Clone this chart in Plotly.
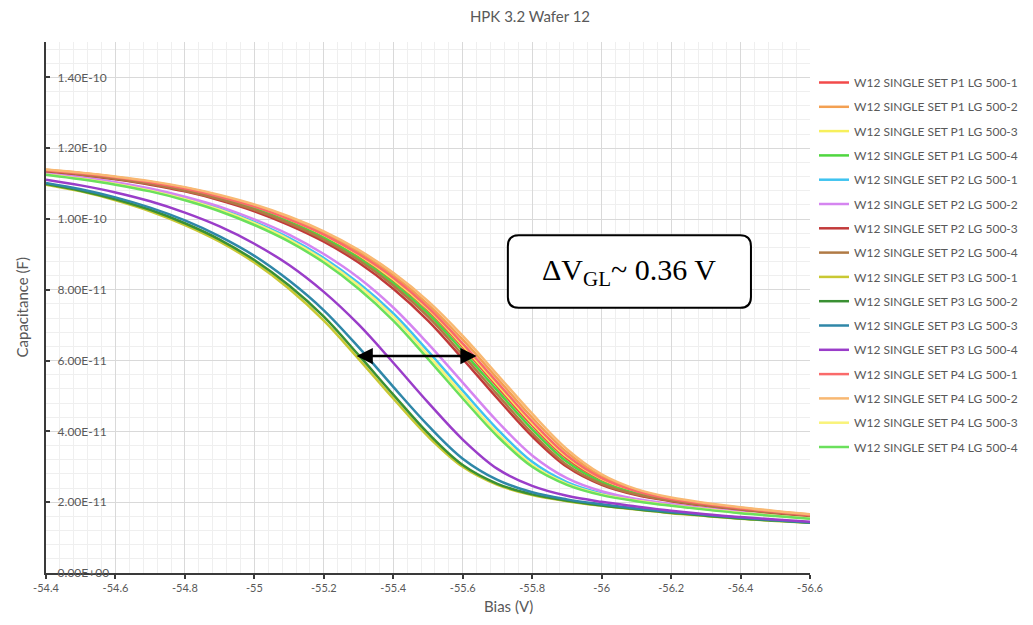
import plotly.graph_objects as go

# ---------------- data ----------------
BIAS_V = [-54.4, -54.5, -54.6, -54.7, -54.8, -54.9, -55.0, -55.1, -55.2, -55.3, -55.4, -55.5,
          -55.6, -55.7, -55.8, -55.9, -56.0, -56.1, -56.2, -56.3, -56.4, -56.5, -56.6]

# capacitance values in units of 1e-11 F
P1_LG500_1 = [11.38, 11.28, 11.16, 11.02, 10.84, 10.61, 10.32, 9.96, 9.51, 8.96, 8.26, 7.42, 6.38, 5.26, 4.17, 3.23, 2.63, 2.28, 2.08, 1.94, 1.82, 1.72, 1.64]
P1_LG500_2 = [11.39, 11.30, 11.19, 11.05, 10.88, 10.66, 10.38, 10.03, 9.60, 9.07, 8.41, 7.59, 6.59, 5.49, 4.39, 3.41, 2.73, 2.34, 2.11, 1.96, 1.84, 1.74, 1.65]
P1_LG500_3 = [11.38, 11.29, 11.17, 11.03, 10.85, 10.62, 10.34, 9.98, 9.54, 8.99, 8.30, 7.46, 6.43, 5.32, 4.23, 3.28, 2.66, 2.30, 2.09, 1.95, 1.83, 1.73, 1.64]
P1_LG500_4 = [11.37, 11.27, 11.15, 11.01, 10.82, 10.58, 10.29, 9.92, 9.47, 8.90, 8.19, 7.33, 6.27, 5.15, 4.06, 3.14, 2.57, 2.25, 2.06, 1.92, 1.81, 1.71, 1.63]
P2_LG500_1 = [11.27, 11.15, 11.01, 10.82, 10.58, 10.29, 9.92, 9.47, 8.90, 8.19, 7.33, 6.27, 5.15, 4.06, 3.14, 2.57, 2.25, 2.06, 1.92, 1.81, 1.71, 1.63, 1.55]
P2_LG500_2 = [11.29, 11.18, 11.04, 10.86, 10.63, 10.35, 9.99, 9.56, 9.01, 8.34, 7.50, 6.48, 5.38, 4.28, 3.32, 2.68, 2.31, 2.09, 1.95, 1.83, 1.73, 1.64, 1.56]
P2_LG500_3 = [11.35, 11.25, 11.12, 10.97, 10.78, 10.53, 10.22, 9.83, 9.36, 8.77, 8.03, 7.13, 6.05, 4.93, 3.86, 3.00, 2.49, 2.20, 2.03, 1.90, 1.79, 1.69, 1.61]
P2_LG500_4 = [11.36, 11.26, 11.14, 10.99, 10.80, 10.56, 10.26, 9.88, 9.42, 8.84, 8.12, 7.24, 6.16, 5.04, 3.95, 3.05, 2.52, 2.22, 2.04, 1.91, 1.80, 1.70, 1.62]
P3_LG500_1 = [10.97, 10.78, 10.53, 10.22, 9.83, 9.36, 8.77, 8.03, 7.13, 6.05, 4.93, 3.86, 3.00, 2.49, 2.20, 2.03, 1.90, 1.79, 1.69, 1.61, 1.53, 1.47, 1.42]
P3_LG500_2 = [10.99, 10.80, 10.56, 10.26, 9.88, 9.42, 8.84, 8.12, 7.24, 6.16, 5.04, 3.95, 3.05, 2.52, 2.22, 2.04, 1.91, 1.80, 1.70, 1.62, 1.54, 1.48, 1.42]
P3_LG500_3 = [11.02, 10.84, 10.61, 10.32, 9.96, 9.51, 8.96, 8.26, 7.42, 6.38, 5.26, 4.17, 3.23, 2.63, 2.28, 2.08, 1.94, 1.82, 1.72, 1.64, 1.56, 1.49, 1.43]
P3_LG500_4 = [11.11, 10.95, 10.75, 10.50, 10.18, 9.79, 9.30, 8.70, 7.94, 7.02, 5.94, 4.82, 3.77, 2.94, 2.46, 2.18, 2.01, 1.88, 1.76, 1.66, 1.58, 1.51, 1.45]
P4_LG500_1 = [11.38, 11.29, 11.18, 11.04, 10.86, 10.63, 10.35, 9.99, 9.56, 9.01, 8.34, 7.50, 6.48, 5.38, 4.28, 3.32, 2.68, 2.31, 2.09, 1.95, 1.83, 1.73, 1.64]
P4_LG500_2 = [11.40, 11.31, 11.20, 11.07, 10.90, 10.68, 10.41, 10.07, 9.65, 9.13, 8.48, 7.68, 6.70, 5.60, 4.50, 3.50, 2.79, 2.37, 2.13, 1.98, 1.86, 1.75, 1.66]
P4_LG500_3 = [11.26, 11.14, 10.99, 10.80, 10.56, 10.26, 9.88, 9.42, 8.84, 8.12, 7.24, 6.16, 5.04, 3.95, 3.05, 2.52, 2.22, 2.04, 1.91, 1.80, 1.70, 1.62, 1.54]
P4_LG500_4 = [11.25, 11.12, 10.97, 10.78, 10.53, 10.22, 9.83, 9.36, 8.77, 8.03, 7.13, 6.05, 4.93, 3.86, 3.00, 2.49, 2.20, 2.03, 1.90, 1.79, 1.69, 1.61, 1.53]
UNIT = 1e-11

SERIES_NAMES = [
    "W12 SINGLE SET P1 LG 500-1", "W12 SINGLE SET P1 LG 500-2", "W12 SINGLE SET P1 LG 500-3", "W12 SINGLE SET P1 LG 500-4",
    "W12 SINGLE SET P2 LG 500-1", "W12 SINGLE SET P2 LG 500-2", "W12 SINGLE SET P2 LG 500-3", "W12 SINGLE SET P2 LG 500-4",
    "W12 SINGLE SET P3 LG 500-1", "W12 SINGLE SET P3 LG 500-2", "W12 SINGLE SET P3 LG 500-3", "W12 SINGLE SET P3 LG 500-4",
    "W12 SINGLE SET P4 LG 500-1", "W12 SINGLE SET P4 LG 500-2", "W12 SINGLE SET P4 LG 500-3", "W12 SINGLE SET P4 LG 500-4",
]
SERIES_VALUES = [P1_LG500_1, P1_LG500_2, P1_LG500_3, P1_LG500_4,
                 P2_LG500_1, P2_LG500_2, P2_LG500_3, P2_LG500_4,
                 P3_LG500_1, P3_LG500_2, P3_LG500_3, P3_LG500_4,
                 P4_LG500_1, P4_LG500_2, P4_LG500_3, P4_LG500_4]
SERIES_COLORS = ["#f24a4a", "#f3a052", "#f7f05c", "#4fd63f",
                 "#3fc3f0", "#d585f0", "#c23a3a", "#b07a45",
                 "#c9c833", "#3a9033", "#2f87a8", "#9a3dc9",
                 "#fa6a6a", "#f8b872", "#f9f37a", "#6be05c"]

X_TICK_VALUES = [-54.4, -54.6, -54.8, -55.0, -55.2, -55.4, -55.6, -55.8, -56.0, -56.2, -56.4, -56.6]
X_TICK_LABELS = ["-54.4", "-54.6", "-54.8", "-55", "-55.2", "-55.4", "-55.6", "-55.8", "-56", "-56.2", "-56.4", "-56.6"]
Y_TICK_VALUES = [0, 2e-11, 4e-11, 6e-11, 8e-11, 1e-10, 1.2e-10, 1.4e-10]
Y_TICK_LABELS = ["0.00E+00", "2.00E-11", "4.00E-11", "6.00E-11", "8.00E-11", "1.00E-10", "1.20E-10", "1.40E-10"]

ARROW_X = [-55.29, -55.64]
ARROW_Y = 6.13e-11
BOX_X = [-55.73, -56.43]
BOX_Y = [7.49e-11, 9.54e-11]
DELTA_TEXT = "ΔV<sub>GL</sub>~ 0.36 V"

# ---------------- figure ----------------
GRAY = "#595959"
FONT = "Lato, 'Open Sans', sans-serif"

fig = go.Figure()
for i, (name, vals, col) in enumerate(zip(SERIES_NAMES, SERIES_VALUES, SERIES_COLORS)):
    fig.add_trace(go.Scatter(
        x=BIAS_V, y=[v * UNIT for v in vals], mode="lines", name=name,
        line=dict(color=col, width=2.5, shape="spline", smoothing=1.0),
        legendgroup=f"g{i}",
    ))

W, H = 1033, 625
OFF = 8  # page body margin offset compensation
PW, PH = 764, 531
L, T = 46 - OFF, 42 - OFF
R, B = W - L - PW, H - T - PH

fig.update_layout(
    width=W, height=H,
    margin=dict(l=L, r=R, t=T, b=B, autoexpand=False),
    paper_bgcolor="white", plot_bgcolor="white",
    font=dict(family=FONT, color=GRAY, size=11),
    title=dict(text="HPK 3.2 Wafer 12", x=(530 - OFF) / W, xref="container", xanchor="center",
               y=1 - 9 / H, yref="container", yanchor="middle",
               font=dict(family=FONT, size=15, color=GRAY)),
    showlegend=True,
    legend=dict(x=806 / W, xref="container", xanchor="left",
                y=1 - 60 / H, yref="container", yanchor="top",
                font=dict(family=FONT, size=12, color=GRAY),
                traceorder="grouped", tracegroupgap=5.3, maxheight=600,
                bgcolor="rgba(0,0,0,0)", itemwidth=30),
    xaxis=dict(range=[-54.4, -56.6], tickvals=X_TICK_VALUES, ticktext=X_TICK_LABELS,
               showline=True, linecolor="#3a3a3a", linewidth=2,
               ticks="outside", ticklen=4, tickcolor="#3a3a3a", tickwidth=1.5,
               ticklabeloverflow="allow",
               tickfont=dict(family=FONT, size=11, color=GRAY),
               showgrid=True, gridcolor="#d9d9d9", gridwidth=1, zeroline=False,
               minor=dict(dtick=0.04, tick0=-54.4, showgrid=True, gridcolor="#efefef", gridwidth=1)),
    yaxis=dict(range=[0, 1.5e-10], tickvals=Y_TICK_VALUES, ticktext=Y_TICK_LABELS,
               showline=True, linecolor="#3a3a3a", linewidth=2,
               ticks="inside", ticklen=4, tickcolor="#3a3a3a", tickwidth=1.5,
               ticklabelposition="inside", ticklabelstandoff=7, ticklabeloverflow="allow",
               tickfont=dict(family=FONT, size=12, color=GRAY),
               showgrid=True, gridcolor="#d9d9d9", gridwidth=1, zeroline=False,
               minor=dict(dtick=4e-12, tick0=0, showgrid=True, gridcolor="#efefef", gridwidth=1)),
)

# axis titles
fig.add_annotation(text="Capacitance (F)", xref="paper", yref="paper", x=0, y=0.5,
                   xshift=-25, xanchor="center", yanchor="middle", textangle=-90, showarrow=False,
                   font=dict(family=FONT, size=15, color=GRAY))
fig.add_annotation(text="Bias (V)", xref="paper", yref="paper", x=(508 - 46) / PW, y=0,
                   yshift=-33, showarrow=False, xanchor="center", yanchor="middle",
                   font=dict(family=FONT, size=15, color=GRAY))

# rounded annotation box
x0, x1 = BOX_X
y0, y1 = BOX_Y
rx = (x1 - x0) * 0.045
ry = (y1 - y0) * 0.15
path = (f"M {x0 + rx},{y0} L {x1 - rx},{y0} Q {x1},{y0} {x1},{y0 + ry} "
        f"L {x1},{y1 - ry} Q {x1},{y1} {x1 - rx},{y1} L {x0 + rx},{y1} "
        f"Q {x0},{y1} {x0},{y1 - ry} L {x0},{y0 + ry} Q {x0},{y0} {x0 + rx},{y0} Z")
fig.add_shape(type="path", path=path, xref="x", yref="y",
              line=dict(color="black", width=2), fillcolor="white")
fig.add_annotation(text=DELTA_TEXT, x=(x0 + x1) / 2, y=(y0 + y1) / 2, xref="x", yref="y",
                   showarrow=False, font=dict(family="'Liberation Serif', 'Times New Roman', serif",
                                              size=30, color="black"))

# double-headed arrow
fig.add_annotation(x=ARROW_X[1], y=ARROW_Y, ax=ARROW_X[0], ay=ARROW_Y,
                   xref="x", yref="y", axref="x", ayref="y", text="",
                   showarrow=True, arrowhead=2, startarrowhead=2, arrowside="end+start",
                   arrowwidth=2.5, arrowsize=1.3, startarrowsize=1.3, arrowcolor="black",
                   standoff=0, startstandoff=0)

fig.write_html("out.html")
